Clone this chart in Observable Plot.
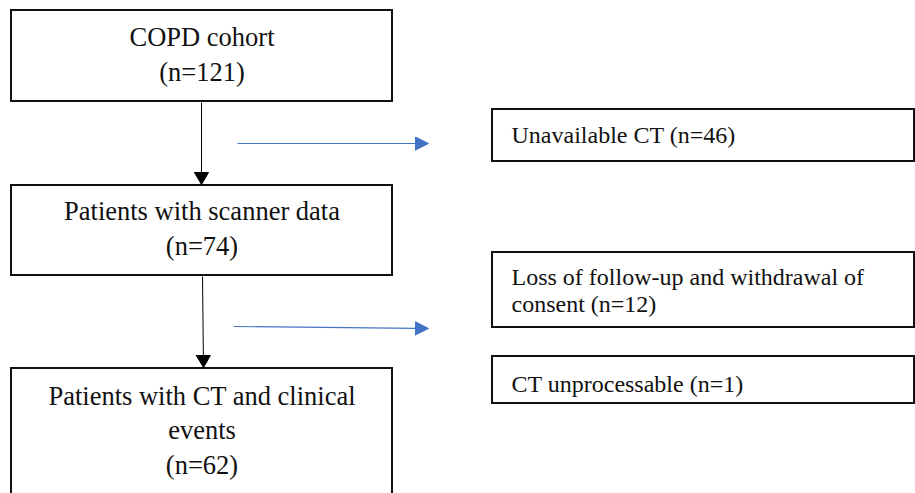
<!DOCTYPE html>
<html><head><meta charset="utf-8">
<script src="https://cdn.jsdelivr.net/npm/d3@7"></script>
<script src="https://cdn.jsdelivr.net/npm/@observablehq/plot@0.6"></script>
<style>body{margin:0;background:#fff;}</style>
</head><body><div id="chart"></div>
<script>
// ---- data ----
const stageLabels = ["COPD cohort", "Patients with scanner data", "Patients with CT and clinical\nevents"];
const stageCounts = [121, 74, 62];
const exclusionLabels = ["Unavailable CT", "Loss of follow-up and withdrawal of\nconsent", "CT unprocessable"];
const exclusionCounts = [46, 12, 1];

// ---- layout (pixel space) ----
const stageBoxX = [11, 392];
const stageBoxY = [[10, 101], [185, 275], [368, 510]];
const stageBaseline = [80, 254, 473];
const exclBoxX = [492, 914];
const exclBoxY = [[109, 161], [252, 327], [356, 403]];
const exclBaseline = [142, 311, 391];
const flowArrows = [
  {x1: 201, y1: 102, x2: 201, y2: 184},
  {x1: 202, y1: 276, x2: 203, y2: 367}
];
const exitArrows = [
  {x1: 237, y1: 143, x2: 428, y2: 143},
  {x1: 233, y1: 326, x2: 428, y2: 328}
];

const stages = stageLabels.map((label, i) => ({
  text: `${label}\n(n=${stageCounts[i]})`,
  x1: stageBoxX[0], x2: stageBoxX[1], y1: stageBoxY[i][0], y2: stageBoxY[i][1],
  cx: (stageBoxX[0] + stageBoxX[1]) / 2, by: stageBaseline[i]
}));
const exclusions = exclusionLabels.map((label, i) => ({
  text: `${label} (n=${exclusionCounts[i]})`,
  x1: exclBoxX[0], x2: exclBoxX[1], y1: exclBoxY[i][0], y2: exclBoxY[i][1],
  tx: exclBoxX[0] + 19, by: exclBaseline[i]
}));

function withHeads(arrows, len, half, id) {
  const shafts = [], heads = [];
  arrows.forEach((a, i) => {
    const dx = a.x2 - a.x1, dy = a.y2 - a.y1, L = Math.hypot(dx, dy);
    const ux = dx / L, uy = dy / L, px = -uy, py = ux;
    const bx = a.x2 - ux * len, by = a.y2 - uy * len;
    shafts.push({x1: a.x1, y1: a.y1, x2: bx, y2: by});
    const k = id + i;
    heads.push({k, x: bx + px * half, y: by + py * half});
    heads.push({k, x: a.x2, y: a.y2});
    heads.push({k, x: bx - px * half, y: by - py * half});
    heads.push({k, x: bx + px * half, y: by + py * half});
  });
  return {shafts, heads};
}
const black = withHeads(flowArrows, 12, 7, "b");
const blue = withHeads(exitArrows, 13, 6.5, "u");
const BLUE = "#4472C4";
const FONT = "'Liberation Serif', 'Times New Roman', serif";

const chart = Plot.plot({
  width: 915, height: 493, margin: 0,
  x: {domain: [0, 915], range: [0, 915], axis: null},
  y: {domain: [0, 493], range: [0, 493], axis: null},
  style: {background: "#fff"},
  marks: [
    Plot.rect(stages, {x1: "x1", x2: "x2", y1: "y1", y2: "y2", fill: "white", stroke: "#111", strokeWidth: 2}),
    Plot.rect(exclusions, {x1: "x1", x2: "x2", y1: "y1", y2: "y2", fill: "white", stroke: "#111", strokeWidth: 2}),
    Plot.link(black.shafts, {x1: "x1", y1: "y1", x2: "x2", y2: "y2", stroke: "#000", strokeWidth: 1}),
    Plot.line(black.heads, {x: "x", y: "y", z: "k", fill: "#000", stroke: "#000", strokeWidth: 1, curve: "linear"}),
    Plot.link(blue.shafts, {x1: "x1", y1: "y1", x2: "x2", y2: "y2", stroke: BLUE, strokeWidth: 1.2}),
    Plot.line(blue.heads, {x: "x", y: "y", z: "k", fill: BLUE, stroke: BLUE, strokeWidth: 1, curve: "linear"}),
    Plot.text(stages, {x: "cx", y: "by", text: "text", textAnchor: "middle", lineAnchor: "bottom",
      lineHeight: 1.29, fontSize: 26.5, fontFamily: FONT, fill: "#111"}),
    Plot.text(exclusions, {x: "tx", y: "by", text: "text", textAnchor: "start", lineAnchor: "bottom",
      lineHeight: 1.125, fontSize: 24, fontFamily: FONT, fill: "#111"})
  ]
});
document.getElementById("chart").appendChild(chart);
</script>
</body></html>
